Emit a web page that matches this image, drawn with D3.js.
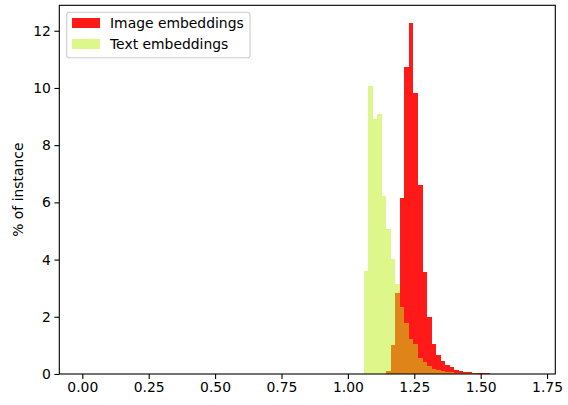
<!DOCTYPE html>
<html>
<head>
<meta charset="utf-8">
<script src="https://cdn.jsdelivr.net/npm/d3@7"></script>
<style>
  body { margin: 0; background: #fff; }
  svg { display: block; font-family: "DejaVu Sans", sans-serif; }
</style>
</head>
<body>
<svg id="chart" width="568" height="405"></svg>
<script>
// Bin left edges (data units), bin width
const binEdges = [1.060, 1.077, 1.094, 1.111, 1.128, 1.145, 1.162, 1.179, 1.196, 1.213,
                  1.230, 1.247, 1.264, 1.281, 1.298, 1.315, 1.332, 1.349, 1.366, 1.383,
                  1.400, 1.417, 1.434, 1.451, 1.468, 1.485, 1.502, 1.519];
const binWidth = 0.017;
// % of instance per bin
const imageValues = [0, 0, 0, 0, 0, 0.10, 1.01, 2.83, 6.15, 10.73,
                     12.28, 9.82, 6.60, 3.57, 1.99, 1.05, 0.66, 0.47, 0.31, 0.24,
                     0.14, 0.12, 0.08, 0.07, 0.04, 0.02, 0.04, 0.04];
const textValues  = [3.60, 10.07, 8.90, 9.09, 6.22, 5.07, 4.02, 3.15, 2.34, 1.78,
                     1.22, 1.05, 0.56, 0.42, 0.28, 0.17, 0.14, 0.10, 0.08, 0.07,
                     0.05, 0.05, 0.03, 0.03, 0.02, 0.01, 0, 0];
const seriesNames = ["Image embeddings", "Text embeddings"];
const xTicks = [0, 0.25, 0.5, 0.75, 1.0, 1.25, 1.5, 1.75];
const yTicks = [0, 2, 4, 6, 8, 10, 12];

const svg = d3.select("#chart");
const L = 59.3, R = 555.3, T = 5.3, B = 374;
const x = d3.scaleLinear().domain([-0.0866, 1.781]).range([L, R]);
const y = d3.scaleLinear().domain([0, 12.89]).range([B, T]);

const redFill = "rgb(255,0,0)", redOp = 0.9;
const greenFill = "rgb(189,239,23)", greenOp = 0.5;

const plot = svg.append("g");
function drawBars(vals, fill, op) {
  plot.append("g").selectAll("rect")
    .data(vals.map((v, i) => ({x0: binEdges[i], v})).filter(d => d.v > 0))
    .join("rect")
    .attr("x", d => x(d.x0))
    .attr("width", d => x(d.x0 + binWidth) - x(d.x0))
    .attr("y", d => y(d.v))
    .attr("height", d => y(0) - y(d.v))
    .attr("fill", fill)
    .attr("fill-opacity", op)
    .attr("shape-rendering", "crispEdges");
}
drawBars(imageValues, redFill, redOp);
drawBars(textValues, greenFill, greenOp);

// axes
const xAxis = d3.axisBottom(x).tickValues(xTicks).tickFormat(d3.format(".2f")).tickSize(4.9).tickPadding(3.5);
const yAxis = d3.axisLeft(y).tickValues(yTicks).tickFormat(d3.format("d")).tickSize(4.9).tickPadding(3.5);
const gx = svg.append("g").attr("transform", `translate(0,${B})`).call(xAxis);
const gy = svg.append("g").attr("transform", `translate(${L},0)`).call(yAxis);
[gx, gy].forEach(g => {
  g.select(".domain").remove();
  g.selectAll(".tick line").attr("stroke", "#000").attr("stroke-width", 1.1);
  g.selectAll(".tick text").attr("fill", "#000").attr("font-size", "13.9px")
    .attr("font-family", "DejaVu Sans, sans-serif");
});

// frame
svg.append("rect").attr("x", L).attr("y", T).attr("width", R - L).attr("height", B - T)
  .attr("fill", "none").attr("stroke", "#000").attr("stroke-width", 1.1);

// y label
svg.append("text")
  .attr("transform", `translate(17.5,${(T + B) / 2}) rotate(-90)`)
  .attr("text-anchor", "middle").attr("dominant-baseline", "central")
  .attr("font-size", "13.9px").attr("fill", "#000")
  .text("% of instance");

// legend
const lg = svg.append("g");
lg.append("rect").attr("x", 66.7).attr("y", 12.3).attr("width", 183.3).attr("height", 45.4)
  .attr("rx", 2.8).attr("fill", "#fff").attr("fill-opacity", 0.8)
  .attr("stroke", "#cccccc").attr("stroke-width", 1.1);
const legItems = [
  {name: seriesNames[0], fill: redFill, op: redOp, cy: 23.3},
  {name: seriesNames[1], fill: greenFill, op: greenOp, cy: 43.7}
];
legItems.forEach(it => {
  lg.append("rect").attr("x", 72).attr("y", it.cy - 4.9).attr("width", 27.8).attr("height", 9.7)
    .attr("fill", it.fill).attr("fill-opacity", it.op).attr("shape-rendering", "crispEdges");
  lg.append("text").attr("x", 110).attr("y", it.cy).attr("dominant-baseline", "central")
    .attr("font-size", "13.9px").attr("fill", "#000").text(it.name);
});
</script>
</body>
</html>
